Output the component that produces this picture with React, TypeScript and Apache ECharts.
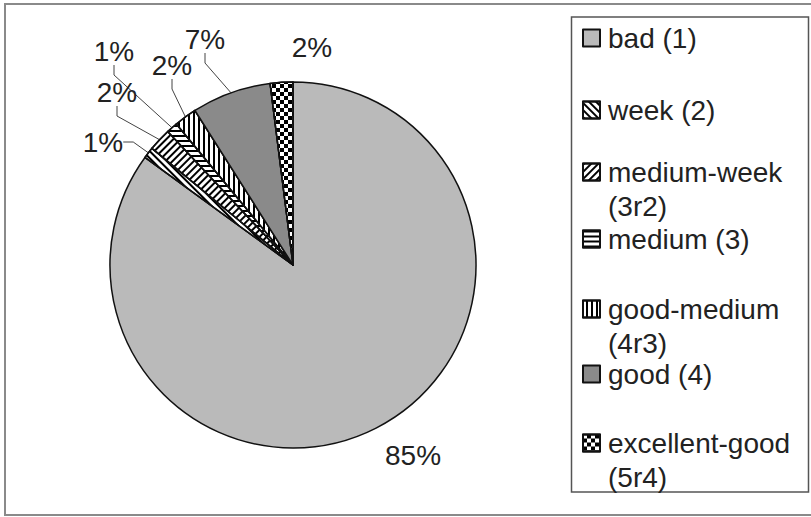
import React, { useEffect, useRef } from 'react';
import * as echarts from 'echarts';

// ---- data ----
const categories = [
  'bad (1)',
  'week (2)',
  'medium-week\n(3r2)',
  'medium (3)',
  'good-medium\n(4r3)',
  'good (4)',
  'excellent-good\n(5r4)',
];
const shares = [85, 1, 2, 1, 2, 7, 2];

// ---- styling (not data) ----
const FONT = "'Liberation Sans', Arial, sans-serif";
const fills = ['#bababa', '#ffffff', '#ffffff', '#ffffff', '#ffffff', '#8a8a8a', '#ffffff'];
const lineDecal = (rotation: number) => ({
  symbol: 'rect',
  symbolSize: 1,
  dashArrayX: [1, 0],
  dashArrayY: [1.6, 2.4],
  rotation,
  color: '#000',
});
const decals: any[] = [
  null,
  lineDecal(Math.PI / 4),
  lineDecal(-Math.PI / 4),
  lineDecal(0),
  lineDecal(Math.PI / 2),
  null,
  {
    symbol: 'rect',
    symbolSize: 1,
    dashArrayX: [[4, 4], [0, 4, 4, 0]],
    dashArrayY: [4, 0],
    rotation: 0,
    color: '#000',
  },
];
// label anchor positions (layout)
const labelPosX = [413, 103, 117, 114, 172, 205, 312];
const labelPosY = [455, 142, 92, 51, 65, 39, 47];
// legend first-line centre y for each entry (layout)
const legendCenterY = [38, 110, 172, 239, 309, 374, 443];

export default function App() {
  const ref = useRef<HTMLDivElement>(null);
  useEffect(() => {
    if (!ref.current) return;
    const chart = echarts.init(ref.current, undefined, { renderer: 'svg' });
    const data = categories.map((name, i) => ({
      name,
      value: shares[i],
      itemStyle: {
        color: fills[i],
        ...(decals[i] ? { decal: decals[i] } : {}),
      },
      labelLine: { show: i !== 0 && i !== 6 },
    }));
    const legends = categories.map((name, i) => {
      const multi = name.indexOf('\n') >= 0;
      return {
        show: true,
        orient: 'vertical',
        left: 582,
        top: legendCenterY[i] - (multi ? 51 : 17),
        padding: 0,
        icon: 'rect',
        itemWidth: 17,
        itemHeight: 17,
        itemStyle: { borderColor: '#111', borderWidth: 2 },
        selectedMode: false,
        data: [name],
        formatter: (n: string) => (n.indexOf('\n') >= 0 ? '\n' + n : n),
        textStyle: {
          fontSize: 28,
          fontFamily: FONT,
          color: '#222',
          lineHeight: 34,
          padding: [0, 0, 0, 3],
        },
      };
    });
    chart.setOption({
      animation: false,
      backgroundColor: '#ffffff',
      legend: legends,
      graphic: [
        {
          type: 'rect',
          shape: { x: 5, y: 4, width: 830, height: 511 },
          style: { fill: 'none', stroke: '#8a8a8a', lineWidth: 2 },
          silent: true,
        },
        {
          type: 'rect',
          shape: { x: 571.5, y: 17, width: 237, height: 475 },
          style: { fill: 'none', stroke: '#555', lineWidth: 1.5 },
          silent: true,
        },
      ],
      series: [
        {
          type: 'pie',
          center: [293, 265],
          radius: 183,
          startAngle: 90,
          clockwise: true,
          avoidLabelOverlap: false,
          data,
          itemStyle: { borderColor: '#111', borderWidth: 1.5 },
          label: {
            show: true,
            position: 'outside',
            fontSize: 28,
            fontFamily: FONT,
            color: '#222',
            formatter: (p: any) => Math.round(p.percent) + '%',
          },
          labelLine: {
            show: true,
            length: 10,
            length2: 10,
            lineStyle: { color: '#444', width: 1 },
          },
          labelLayout: (p: any) => ({
            x: labelPosX[p.dataIndex],
            y: labelPosY[p.dataIndex],
            align: 'center',
            verticalAlign: 'middle',
          }),
          emphasis: { disabled: true },
        },
      ],
    });
    return () => chart.dispose();
  }, []);
  return (
    <div
      ref={ref}
      style={{ position: 'absolute', left: 0, top: 0, width: 811, height: 517 }}
    />
  );
}
